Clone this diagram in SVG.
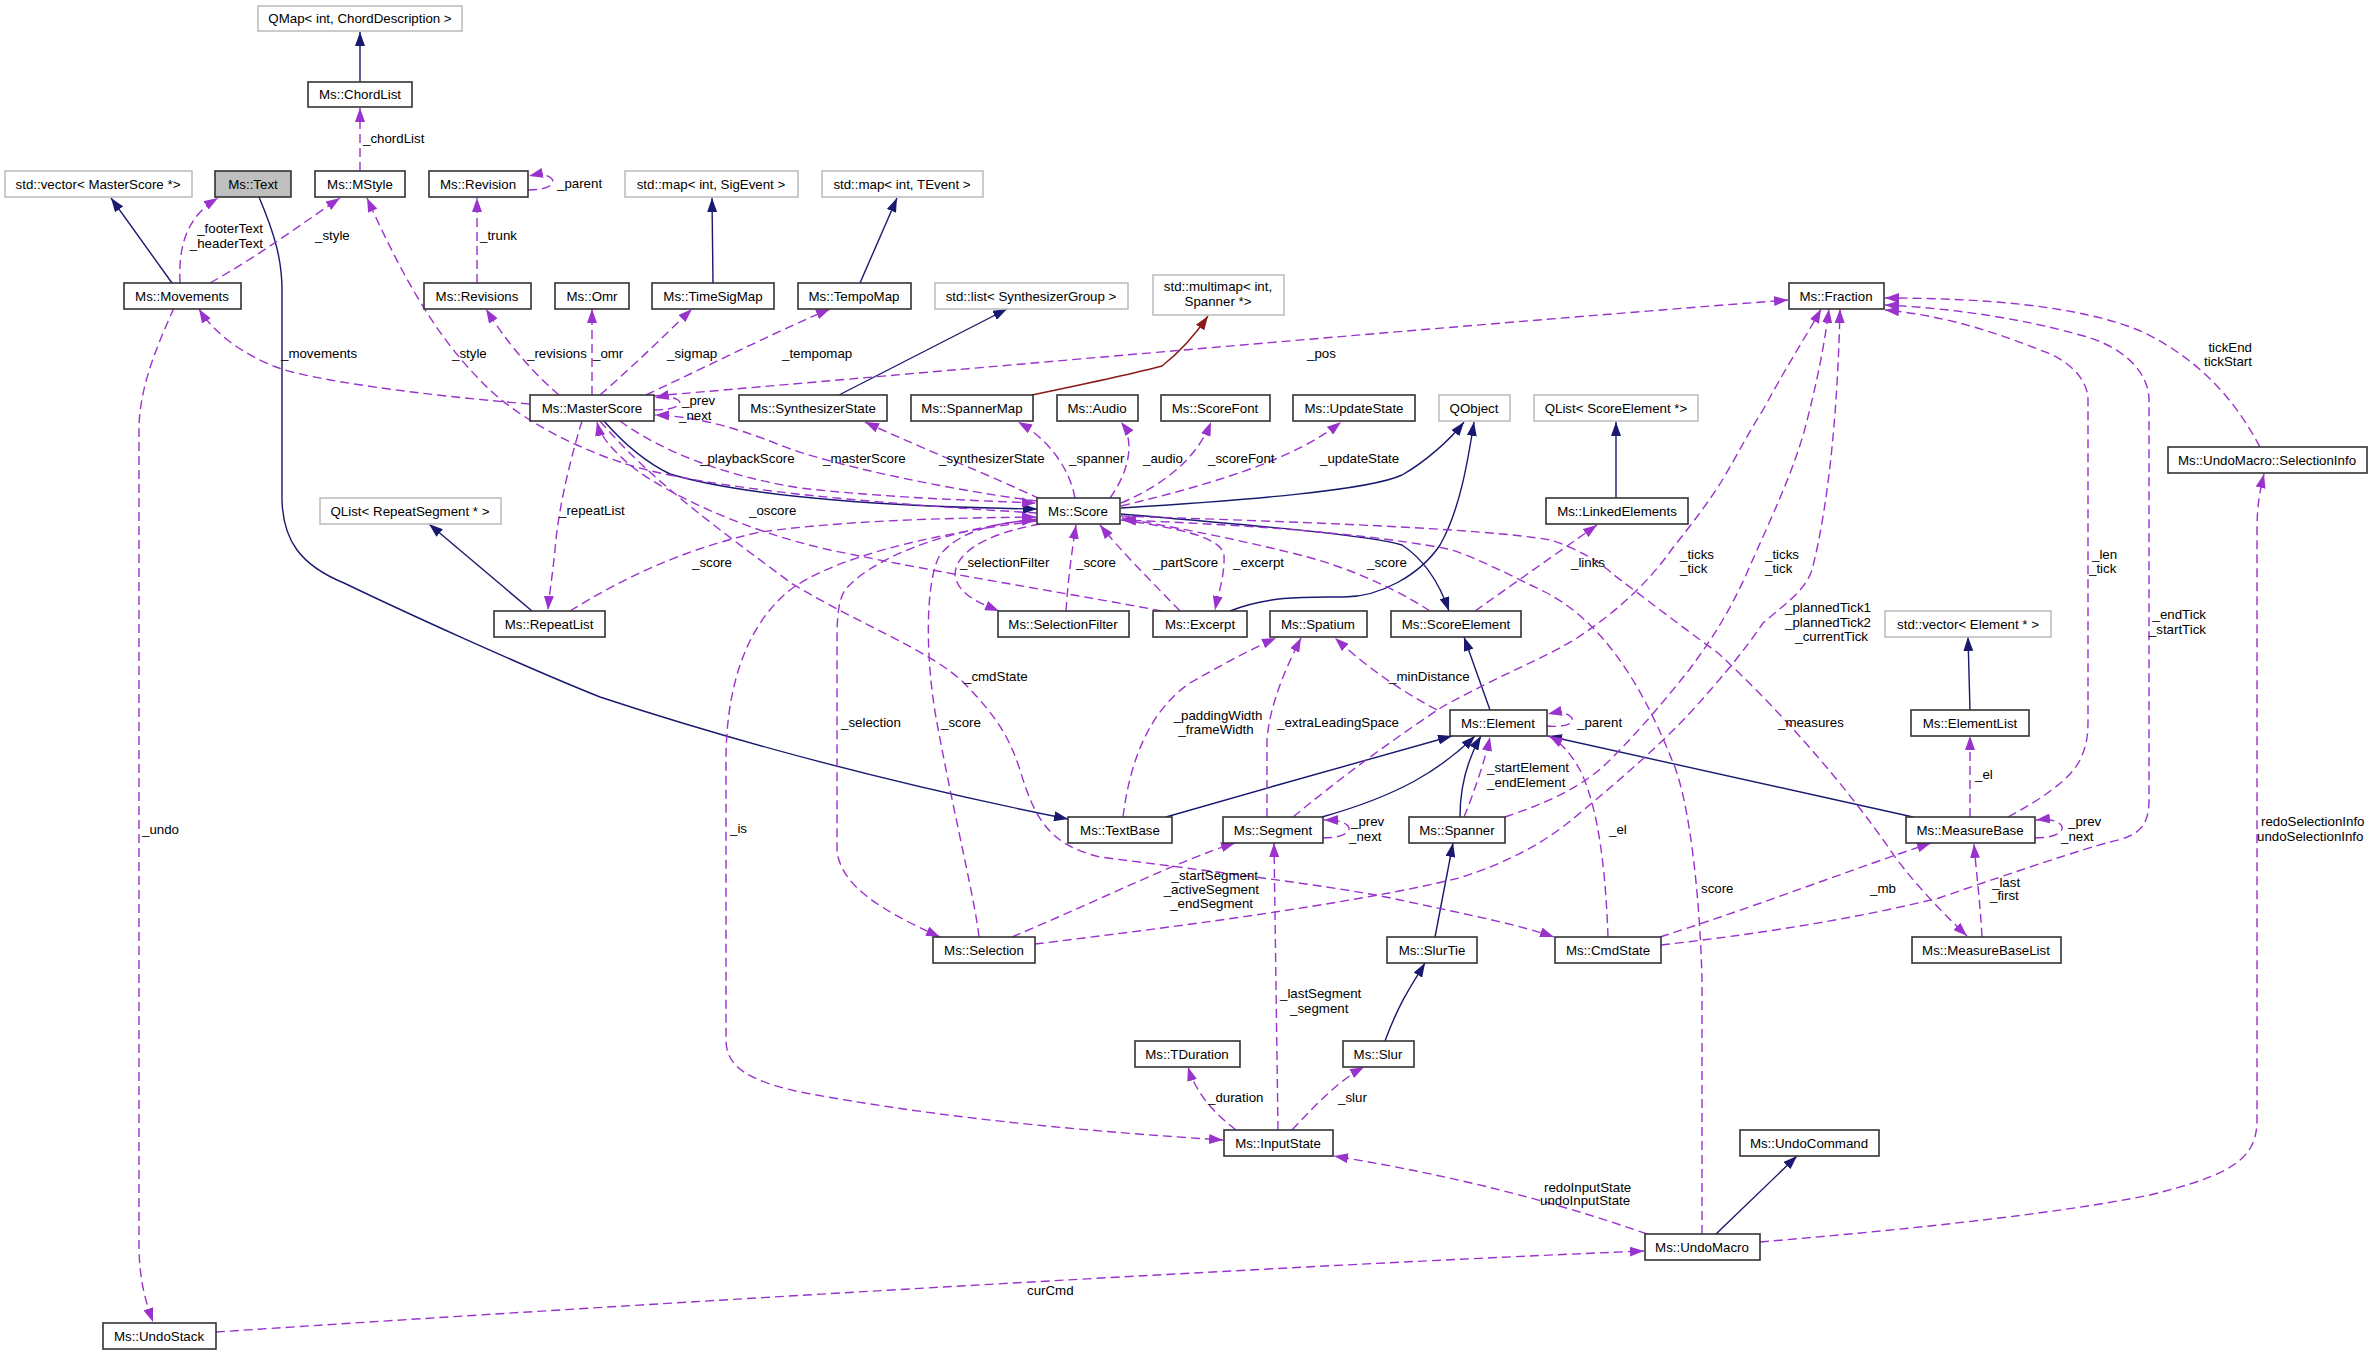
<svg xmlns="http://www.w3.org/2000/svg" width="2373" height="1355" viewBox="0 0 2373 1355">
<style>
rect.n{fill:#fff;stroke:#333;stroke-width:1.6}
rect.g{fill:#fff;stroke:#bfbfbf;stroke-width:1.6}
rect.s{fill:#bfbfbf;stroke:#333;stroke-width:1.6}
text{font-family:"Liberation Sans",Arial,sans-serif;font-size:13.3px;fill:#000}
.nt{text-anchor:middle}
.e{fill:none;stroke-width:1.4}
.i{stroke:#191970}
.u{stroke:#9a32cd;stroke-dasharray:9,5}
.t{stroke:#8b1a1a}
.m{text-anchor:middle}
.r{text-anchor:end}
</style>
<defs>
<marker id="ai" viewBox="0 0 14 10" refX="14" refY="5" markerWidth="14" markerHeight="10" markerUnits="userSpaceOnUse" orient="auto"><path d="M0,0 L14,5 L0,10 z" fill="#191970"/></marker>
<marker id="au" viewBox="0 0 14 10" refX="14" refY="5" markerWidth="14" markerHeight="10" markerUnits="userSpaceOnUse" orient="auto"><path d="M0,0 L14,5 L0,10 z" fill="#9a32cd"/></marker>
<marker id="at" viewBox="0 0 14 10" refX="14" refY="5" markerWidth="14" markerHeight="10" markerUnits="userSpaceOnUse" orient="auto"><path d="M0,0 L14,5 L0,10 z" fill="#8b1a1a"/></marker>
</defs>
<rect width="2373" height="1355" fill="#fff"/>
<g id="edges">
<!-- inheritance -->
<path class="e i" marker-end="url(#ai)" d="M360,82 L360,32"/>
<path class="e i" marker-end="url(#ai)" d="M172,283 L111,198"/>
<path class="e i" marker-end="url(#ai)" d="M713,283 L712,198"/>
<path class="e i" marker-end="url(#ai)" d="M860,283 L897,198"/>
<path class="e i" marker-end="url(#ai)" d="M839,395 L1007,309"/>
<path class="e t" marker-end="url(#at)" d="M1032,395 C1080,385 1140,372 1162,366 C1180,352 1195,335 1208,316"/>
<path class="e i" marker-end="url(#ai)" d="M259,197 C275,235 282,260 282,290 L282,500 C283,540 300,565 344,583 C400,610 520,665 600,697 C700,730 850,775 1068,819"/>
<path class="e i" marker-end="url(#ai)" d="M604,421 C625,445 645,462 670,474 C750,498 900,507 1037,509"/>
<path class="e i" marker-end="url(#ai)" d="M1121,508 C1250,500 1370,490 1402,475 C1425,462 1450,440 1464,422"/>
<path class="e i" marker-end="url(#ai)" d="M1230,611 C1270,595 1310,597 1344,597 C1380,597 1420,575 1440,545 C1460,510 1468,460 1474,422"/>
<path class="e i" marker-end="url(#ai)" d="M1121,514 C1250,525 1370,535 1402,545 C1425,560 1440,585 1449,611"/>
<path class="e i" marker-end="url(#ai)" d="M1616,498 L1616,422"/>
<path class="e i" marker-end="url(#ai)" d="M532,611 L429,524"/>
<path class="e i" marker-end="url(#ai)" d="M1490,710 L1464,637"/>
<path class="e i" marker-end="url(#ai)" d="M1166,817 C1260,790 1400,750 1452,736"/>
<path class="e i" marker-end="url(#ai)" d="M1322,817 C1400,795 1440,770 1475,736"/>
<path class="e i" marker-end="url(#ai)" d="M1460,817 C1460,780 1470,755 1481,736"/>
<path class="e i" marker-end="url(#ai)" d="M1913,817 L1548,736"/>
<path class="e i" marker-end="url(#ai)" d="M1970,710 L1968,637"/>
<path class="e i" marker-end="url(#ai)" d="M1385,1041 C1400,1000 1415,980 1425,963"/>
<path class="e i" marker-end="url(#ai)" d="M1435,937 L1453,843"/>
<path class="e i" marker-end="url(#ai)" d="M1716,1234 L1797,1156"/>
<!-- usage -->
<path class="e u" marker-end="url(#au)" d="M360,171 L360,108"/>
<path class="e u" marker-end="url(#au)" d="M180,283 C178,240 190,215 218,198"/>
<path class="e u" marker-end="url(#au)" d="M210,283 C260,255 300,225 340,198"/>
<path class="e u" marker-end="url(#au)" d="M477,283 L477,198"/>
<path class="e u" marker-end="url(#au)" d="M528,190 C552,190 556,182 551,178 C546,174 538,174 529,176"/>
<path class="e u" marker-end="url(#au)" d="M530,404 C420,395 310,380 276,367 C245,355 215,335 199,309"/>
<path class="e u" marker-end="url(#au)" d="M1037,513 C900,505 700,490 620,462 C575,447 515,418 480,380 C430,330 395,260 367,198"/>
<path class="e u" marker-end="url(#au)" d="M559,395 C530,370 505,340 486,309"/>
<path class="e u" marker-end="url(#au)" d="M592,395 L592,309"/>
<path class="e u" marker-end="url(#au)" d="M600,395 C640,360 670,330 692,309"/>
<path class="e u" marker-end="url(#au)" d="M646,395 C720,360 780,330 830,309"/>
<path class="e u" marker-end="url(#au)" d="M654,396 C900,375 1400,330 1788,300"/>
<path class="e u" marker-end="url(#au)" d="M654,410 C676,410 684,404 678,400 C672,396 664,396 655,398"/>
<path class="e u" marker-end="url(#au)" d="M1037,501 C950,490 830,465 780,445 C730,425 690,416 655,415"/>
<path class="e u" marker-end="url(#au)" d="M620,421 C660,450 720,475 800,488 C880,497 960,500 1036,503"/>
<path class="e u" marker-end="url(#au)" d="M1040,499 C990,475 930,452 865,422"/>
<path class="e u" marker-end="url(#au)" d="M1075,498 C1070,470 1050,440 1018,422"/>
<path class="e u" marker-end="url(#au)" d="M1110,498 C1130,470 1135,440 1121,422"/>
<path class="e u" marker-end="url(#au)" d="M1121,503 C1170,482 1198,455 1211,422"/>
<path class="e u" marker-end="url(#au)" d="M1121,506 C1230,480 1300,455 1341,422"/>
<path class="e u" marker-end="url(#au)" d="M582,421 C570,460 558,510 555,550 C552,580 549,595 548,610"/>
<path class="e u" marker-end="url(#au)" d="M570,611 C620,580 680,550 760,532 C850,520 950,518 1036,517"/>
<path class="e u" marker-end="url(#au)" d="M1162,611 C1050,590 950,575 830,550 C740,530 660,490 630,465 C610,448 600,435 597,422"/>
<path class="e u" marker-end="url(#au)" d="M1037,519 C940,530 870,560 845,590 C838,600 837,620 837,640 L837,850 C840,885 880,910 940,937"/>
<path class="e u" marker-end="url(#au)" d="M979,937 C975,900 955,820 937,723 C925,660 925,580 940,555 C960,530 1000,522 1036,520"/>
<path class="e u" marker-end="url(#au)" d="M1037,521 C920,535 830,560 790,590 C740,630 726,700 726,760 L726,1040 C726,1065 745,1080 800,1092 C950,1120 1100,1132 1223,1140"/>
<path class="e u" marker-end="url(#au)" d="M1040,524 C980,535 955,555 955,575 C958,595 980,603 999,611"/>
<path class="e u" marker-end="url(#au)" d="M1066,611 C1068,580 1072,550 1076,525"/>
<path class="e u" marker-end="url(#au)" d="M1180,611 C1150,580 1120,550 1100,525"/>
<path class="e u" marker-end="url(#au)" d="M1121,520 C1180,528 1222,538 1224,555 C1225,575 1218,595 1215,610"/>
<path class="e u" marker-end="url(#au)" d="M1430,611 C1390,585 1340,565 1300,555 C1220,535 1160,525 1122,518"/>
<path class="e u" marker-end="url(#au)" d="M1475,611 L1597,525"/>
<path class="e u" marker-end="url(#au)" d="M600,421 C650,480 720,530 791,583 C860,625 930,650 964,683 C1000,720 1010,740 1020,770 C1035,820 1050,845 1100,857 C1200,870 1344,887 1400,900 C1470,915 1520,925 1554,937"/>
<path class="e u" marker-end="url(#au)" d="M1437,710 C1400,690 1370,670 1335,638"/>
<path class="e u" marker-end="url(#au)" d="M1123,817 C1130,760 1150,710 1190,683 C1230,660 1260,645 1276,638"/>
<path class="e u" marker-end="url(#au)" d="M1267,817 L1267,740 C1270,700 1290,660 1301,638"/>
<path class="e u" marker-end="url(#au)" d="M1547,726 C1568,728 1576,722 1571,717 C1566,712 1557,712 1548,714"/>
<path class="e u" marker-end="url(#au)" d="M1464,817 C1475,790 1485,760 1490,737"/>
<path class="e u" marker-end="url(#au)" d="M1323,838 C1346,838 1353,830 1347,825 C1341,820 1332,820 1324,820"/>
<path class="e u" marker-end="url(#au)" d="M1293,817 C1350,770 1400,735 1442,707 C1500,675 1540,660 1574,640 C1620,610 1650,580 1672,549 C1695,520 1710,500 1723,479 C1740,450 1750,430 1763,410 C1790,360 1810,330 1821,309"/>
<path class="e u" marker-end="url(#au)" d="M1505,817 C1540,805 1580,790 1610,760 C1640,730 1665,700 1689,670 C1715,635 1730,610 1746,575 C1770,520 1790,480 1804,432 C1818,380 1825,340 1829,309"/>
<path class="e u" marker-end="url(#au)" d="M1035,944 C1150,930 1350,905 1459,878 C1510,862 1545,842 1574,818 C1620,780 1660,745 1689,714 C1720,680 1745,650 1763,623 C1790,600 1805,590 1812,570 C1830,500 1838,400 1840,309"/>
<path class="e u" marker-end="url(#au)" d="M1012,937 C1100,900 1180,860 1235,843"/>
<path class="e u" marker-end="url(#au)" d="M1121,516 C1300,522 1480,528 1551,540 C1580,550 1600,562 1614,575 C1660,610 1700,640 1718,653 C1780,710 1850,790 1895,857 C1920,890 1945,915 1967,936"/>
<path class="e u" marker-end="url(#au)" d="M1702,1234 L1702,980 C1700,900 1690,800 1672,760 C1640,680 1600,620 1545,592 C1500,570 1470,555 1448,549 C1350,530 1200,523 1122,520"/>
<path class="e u" marker-end="url(#au)" d="M1608,937 C1606,880 1600,810 1580,770 C1570,752 1560,742 1549,736"/>
<path class="e u" marker-end="url(#au)" d="M1660,937 C1760,905 1850,870 1931,843"/>
<path class="e u" marker-end="url(#au)" d="M1661,945 C1750,935 1850,920 1939,898 C2020,870 2080,850 2110,842 C2140,836 2149,825 2149,800 L2149,400 C2149,370 2120,345 2080,335 C2020,318 1950,308 1885,305"/>
<path class="e u" marker-end="url(#au)" d="M2008,817 C2040,800 2070,780 2080,760 C2087,745 2088,735 2088,720 L2088,400 C2088,380 2070,360 2040,350 C1990,330 1940,315 1885,310"/>
<path class="e u" marker-end="url(#au)" d="M2260,447 C2235,400 2200,360 2143,332 C2080,305 1980,298 1885,298"/>
<path class="e u" marker-end="url(#au)" d="M1982,937 C1980,900 1976,870 1974,844"/>
<path class="e u" marker-end="url(#au)" d="M2035,838 C2060,838 2066,829 2060,824 C2054,819 2045,819 2036,820"/>
<path class="e u" marker-end="url(#au)" d="M1970,817 L1970,736"/>
<path class="e u" marker-end="url(#au)" d="M1278,1130 L1274,843"/>
<path class="e u" marker-end="url(#au)" d="M1236,1130 C1210,1110 1195,1090 1188,1067"/>
<path class="e u" marker-end="url(#au)" d="M1292,1130 C1320,1100 1340,1080 1364,1067"/>
<path class="e u" marker-end="url(#au)" d="M1647,1234 C1550,1200 1450,1175 1334,1156"/>
<path class="e u" marker-end="url(#au)" d="M1760,1242 C1900,1230 2050,1215 2150,1195 C2230,1175 2257,1160 2257,1120 L2257,530 C2257,505 2260,490 2264,474"/>
<path class="e u" marker-end="url(#au)" d="M216,1332 C700,1300 1300,1265 1644,1251"/>
<path class="e u" marker-end="url(#au)" d="M174,308 C155,350 139,390 139,430 L139,1250 C140,1285 147,1305 153,1322"/>
</g>
<g id="edge-labels">
<text x="363" y="143">_chordList</text>
<text class="r" x="263" y="233">_footerText</text>
<text class="r" x="263" y="248">_headerText</text>
<text x="315" y="240">_style</text>
<text x="480" y="240">_trunk</text>
<text x="557" y="188">_parent</text>
<text x="281" y="358">_movements</text>
<text x="452" y="358">_style</text>
<text x="527" y="358">_revisions</text>
<text x="593" y="358">_omr</text>
<text x="667" y="358">_sigmap</text>
<text x="782" y="358">_tempomap</text>
<text x="1307" y="358">_pos</text>
<text x="682" y="405">_prev</text>
<text x="679" y="420">_next</text>
<text x="700" y="463">_playbackScore</text>
<text x="823" y="463">_masterScore</text>
<text x="939" y="463">_synthesizerState</text>
<text x="1069" y="463">_spanner</text>
<text x="1143" y="463">_audio</text>
<text x="1208" y="463">_scoreFont</text>
<text x="1320" y="463">_updateState</text>
<text class="r" x="2252" y="352">tickEnd</text>
<text class="r" x="2252" y="366">tickStart</text>
<text x="559" y="515">_repeatList</text>
<text x="749" y="515">_oscore</text>
<text x="692" y="567">_score</text>
<text x="960" y="567">_selectionFilter</text>
<text x="1076" y="567">_score</text>
<text x="1153" y="567">_partScore</text>
<text x="1233" y="567">_excerpt</text>
<text x="1367" y="567">_score</text>
<text x="1571" y="567">_links</text>
<text x="1680" y="559">_ticks</text>
<text x="1680" y="573">_tick</text>
<text x="1765" y="559">_ticks</text>
<text x="1765" y="573">_tick</text>
<text x="2092" y="559">_len</text>
<text x="2089" y="573">_tick</text>
<text class="r" x="1871" y="612">_plannedTick1</text>
<text class="r" x="1871" y="627">_plannedTick2</text>
<text class="r" x="1868" y="641">_currentTick</text>
<text class="r" x="2206" y="619">_endTick</text>
<text class="r" x="2206" y="634">_startTick</text>
<text x="964" y="681">_cmdState</text>
<text x="1389" y="681">_minDistance</text>
<text class="m" x="1218" y="720">_paddingWidth</text>
<text class="m" x="1216" y="734">_frameWidth</text>
<text x="841" y="727">_selection</text>
<text x="941" y="727">_score</text>
<text x="1277" y="727">_extraLeadingSpace</text>
<text x="1577" y="727">_parent</text>
<text x="1778" y="727">_measures</text>
<text x="1975" y="779">_el</text>
<text x="1487" y="772">_startElement</text>
<text x="1487" y="787">_endElement</text>
<text x="1351" y="826">_prev</text>
<text x="1349" y="841">_next</text>
<text x="2068" y="826">_prev</text>
<text x="2061" y="841">_next</text>
<text x="2261" y="826">redoSelectionInfo</text>
<text x="2257" y="841">undoSelectionInfo</text>
<text x="142" y="834">_undo</text>
<text x="730" y="833">_is</text>
<text x="1609" y="834">_el</text>
<text class="r" x="1258" y="880">_startSegment</text>
<text class="r" x="1259" y="894">_activeSegment</text>
<text class="r" x="1253" y="908">_endSegment</text>
<text x="1870" y="893">_mb</text>
<text x="1701" y="893">score</text>
<text x="1992" y="887">_last</text>
<text x="1990" y="900">_first</text>
<text x="1280" y="998">_lastSegment</text>
<text x="1290" y="1013">_segment</text>
<text x="1208" y="1102">_duration</text>
<text x="1338" y="1102">_slur</text>
<text x="1544" y="1192">redoInputState</text>
<text x="1540" y="1205">undoInputState</text>
<text x="1027" y="1295">curCmd</text>
</g>
<g id="node-qmap"><rect class="g" x="258" y="6" width="204" height="25"/><text class="nt" x="360" y="23">QMap&lt; int, ChordDescription &gt;</text></g>
<g id="node-chordlist"><rect class="n" x="308" y="82" width="104" height="25"/><text class="nt" x="360" y="99">Ms::ChordList</text></g>
<g id="node-vecmaster"><rect class="g" x="5" y="171" width="187" height="26"/><text class="nt" x="98" y="189">std::vector&lt; MasterScore *&gt;</text></g>
<g id="node-text"><rect class="s" x="215" y="171" width="76" height="26"/><text class="nt" x="253" y="189">Ms::Text</text></g>
<g id="node-mstyle"><rect class="n" x="315" y="171" width="90" height="26"/><text class="nt" x="360" y="189">Ms::MStyle</text></g>
<g id="node-revision"><rect class="n" x="429" y="171" width="99" height="26"/><text class="nt" x="478" y="189">Ms::Revision</text></g>
<g id="node-mapsig"><rect class="g" x="625" y="171" width="173" height="26"/><text class="nt" x="711" y="189">std::map&lt; int, SigEvent &gt;</text></g>
<g id="node-maptev"><rect class="g" x="822" y="171" width="161" height="26"/><text class="nt" x="902" y="189">std::map&lt; int, TEvent &gt;</text></g>
<g id="node-movements"><rect class="n" x="124" y="283" width="117" height="26"/><text class="nt" x="182" y="301">Ms::Movements</text></g>
<g id="node-revisions"><rect class="n" x="424" y="283" width="107" height="26"/><text class="nt" x="477" y="301">Ms::Revisions</text></g>
<g id="node-omr"><rect class="n" x="555" y="283" width="74" height="26"/><text class="nt" x="592" y="301">Ms::Omr</text></g>
<g id="node-timesigmap"><rect class="n" x="652" y="283" width="122" height="26"/><text class="nt" x="713" y="301">Ms::TimeSigMap</text></g>
<g id="node-tempomap"><rect class="n" x="798" y="283" width="113" height="26"/><text class="nt" x="854" y="301">Ms::TempoMap</text></g>
<g id="node-synthgroup"><rect class="g" x="935" y="283" width="193" height="26"/><text class="nt" x="1031" y="301">std::list&lt; SynthesizerGroup &gt;</text></g>
<g id="node-multimap"><rect class="g" x="1153" y="275" width="131" height="40"/><text class="nt" x="1218" y="291">std::multimap&lt; int,</text><text class="nt" x="1218" y="306">Spanner *&gt;</text></g>
<g id="node-fraction"><rect class="n" x="1789" y="283" width="95" height="26"/><text class="nt" x="1836" y="301">Ms::Fraction</text></g>
<g id="node-masterscore"><rect class="n" x="530" y="395" width="124" height="26"/><text class="nt" x="592" y="413">Ms::MasterScore</text></g>
<g id="node-synthstate"><rect class="n" x="739" y="395" width="148" height="26"/><text class="nt" x="813" y="413">Ms::SynthesizerState</text></g>
<g id="node-spannermap"><rect class="n" x="911" y="395" width="122" height="26"/><text class="nt" x="972" y="413">Ms::SpannerMap</text></g>
<g id="node-audio"><rect class="n" x="1057" y="395" width="81" height="26"/><text class="nt" x="1097" y="413">Ms::Audio</text></g>
<g id="node-scorefont"><rect class="n" x="1161" y="395" width="109" height="26"/><text class="nt" x="1215" y="413">Ms::ScoreFont</text></g>
<g id="node-updatestate"><rect class="n" x="1293" y="395" width="122" height="26"/><text class="nt" x="1354" y="413">Ms::UpdateState</text></g>
<g id="node-qobject"><rect class="g" x="1439" y="395" width="71" height="26"/><text class="nt" x="1474" y="413">QObject</text></g>
<g id="node-qlistse"><rect class="g" x="1534" y="395" width="164" height="26"/><text class="nt" x="1616" y="413">QList&lt; ScoreElement *&gt;</text></g>
<g id="node-selinfo"><rect class="n" x="2168" y="447" width="199" height="26"/><text class="nt" x="2267" y="465">Ms::UndoMacro::SelectionInfo</text></g>
<g id="node-qlistrs"><rect class="g" x="320" y="498" width="181" height="26"/><text class="nt" x="410" y="516">QList&lt; RepeatSegment * &gt;</text></g>
<g id="node-score"><rect class="n" x="1037" y="498" width="83" height="26"/><text class="nt" x="1078" y="516">Ms::Score</text></g>
<g id="node-linked"><rect class="n" x="1546" y="498" width="142" height="26"/><text class="nt" x="1617" y="516">Ms::LinkedElements</text></g>
<g id="node-repeatlist"><rect class="n" x="494" y="611" width="111" height="26"/><text class="nt" x="549" y="629">Ms::RepeatList</text></g>
<g id="node-selfilter"><rect class="n" x="998" y="611" width="131" height="26"/><text class="nt" x="1063" y="629">Ms::SelectionFilter</text></g>
<g id="node-excerpt"><rect class="n" x="1153" y="611" width="94" height="26"/><text class="nt" x="1200" y="629">Ms::Excerpt</text></g>
<g id="node-spatium"><rect class="n" x="1270" y="611" width="97" height="26"/><text class="nt" x="1318" y="629">Ms::Spatium</text></g>
<g id="node-scoreelement"><rect class="n" x="1391" y="611" width="130" height="26"/><text class="nt" x="1456" y="629">Ms::ScoreElement</text></g>
<g id="node-vecelem"><rect class="g" x="1885" y="611" width="166" height="26"/><text class="nt" x="1968" y="629">std::vector&lt; Element * &gt;</text></g>
<g id="node-element"><rect class="n" x="1450" y="710" width="97" height="26"/><text class="nt" x="1498" y="728">Ms::Element</text></g>
<g id="node-elementlist"><rect class="n" x="1911" y="710" width="118" height="26"/><text class="nt" x="1970" y="728">Ms::ElementList</text></g>
<g id="node-textbase"><rect class="n" x="1068" y="817" width="104" height="26"/><text class="nt" x="1120" y="835">Ms::TextBase</text></g>
<g id="node-segment"><rect class="n" x="1223" y="817" width="100" height="26"/><text class="nt" x="1273" y="835">Ms::Segment</text></g>
<g id="node-spanner"><rect class="n" x="1409" y="817" width="96" height="26"/><text class="nt" x="1457" y="835">Ms::Spanner</text></g>
<g id="node-measurebase"><rect class="n" x="1906" y="817" width="129" height="26"/><text class="nt" x="1970" y="835">Ms::MeasureBase</text></g>
<g id="node-selection"><rect class="n" x="933" y="937" width="102" height="26"/><text class="nt" x="984" y="955">Ms::Selection</text></g>
<g id="node-slurtie"><rect class="n" x="1387" y="937" width="90" height="26"/><text class="nt" x="1432" y="955">Ms::SlurTie</text></g>
<g id="node-cmdstate"><rect class="n" x="1555" y="937" width="106" height="26"/><text class="nt" x="1608" y="955">Ms::CmdState</text></g>
<g id="node-mblist"><rect class="n" x="1912" y="937" width="149" height="26"/><text class="nt" x="1986" y="955">Ms::MeasureBaseList</text></g>
<g id="node-tduration"><rect class="n" x="1135" y="1041" width="105" height="26"/><text class="nt" x="1187" y="1059">Ms::TDuration</text></g>
<g id="node-slur"><rect class="n" x="1343" y="1041" width="71" height="26"/><text class="nt" x="1378" y="1059">Ms::Slur</text></g>
<g id="node-inputstate"><rect class="n" x="1224" y="1130" width="109" height="26"/><text class="nt" x="1278" y="1148">Ms::InputState</text></g>
<g id="node-undocommand"><rect class="n" x="1740" y="1130" width="139" height="26"/><text class="nt" x="1809" y="1148">Ms::UndoCommand</text></g>
<g id="node-undomacro"><rect class="n" x="1645" y="1234" width="115" height="26"/><text class="nt" x="1702" y="1252">Ms::UndoMacro</text></g>
<g id="node-undostack"><rect class="n" x="103" y="1323" width="113" height="26"/><text class="nt" x="159" y="1341">Ms::UndoStack</text></g>
</svg>
